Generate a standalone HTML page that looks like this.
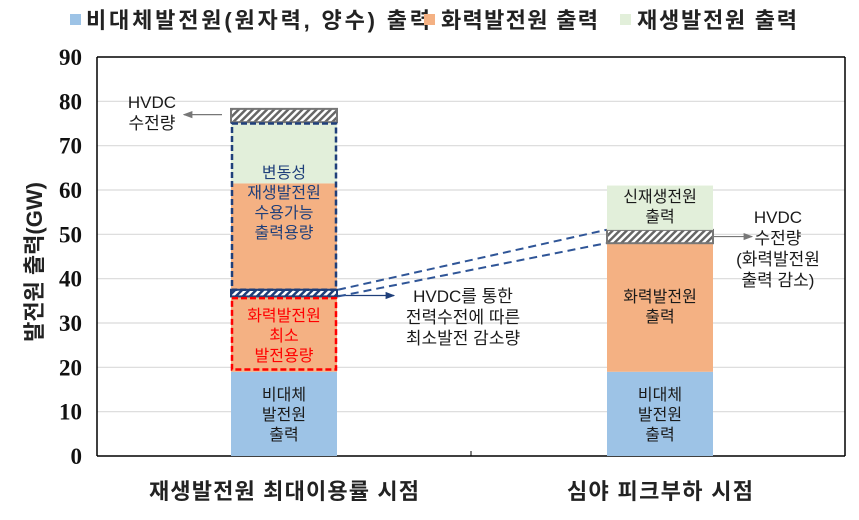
<!DOCTYPE html>
<html><head><meta charset="utf-8">
<style>
body{margin:0;background:#fff;}
svg text{font-family:"Liberation Sans","Noto Sans CJK KR",sans-serif;}
svg text.serif{font-family:"Liberation Serif",serif;}
</style></head>
<body>
<svg width="859" height="515" viewBox="0 0 859 515" xmlns="http://www.w3.org/2000/svg">
<defs>
<pattern id="hg" width="5" height="5" patternUnits="userSpaceOnUse" patternTransform="rotate(45)"><rect width="5" height="5" fill="#fff"/><rect width="2.5" height="5" fill="#666"/></pattern>
<pattern id="hb" width="5" height="5" patternUnits="userSpaceOnUse" patternTransform="rotate(45)"><rect width="5" height="5" fill="#fff"/><rect width="2.5" height="5" fill="#1f3f7a"/></pattern>
<marker id="ag" markerWidth="8" markerHeight="8" refX="7" refY="4" orient="auto"><path d="M0,1 L8,4 L0,7Z" fill="#777"/></marker>
<marker id="an" markerWidth="8" markerHeight="8" refX="7" refY="4" orient="auto"><path d="M0,1 L8,4 L0,7Z" fill="#1f3f7a"/></marker>
</defs>
<g id="legend">
<rect x="70" y="14" width="11" height="11" fill="#9dc3e6"/>
<text x="86" y="28" font-size="22" font-weight="bold" fill="#222" textLength="344">비대체발전원(원자력, 양수) 출력</text>
<rect x="424" y="14" width="11" height="11" fill="#f4b183"/>
<text x="441" y="28" font-size="22" font-weight="bold" fill="#222" textLength="157">화력발전원 출력</text>
<rect x="620" y="14" width="11" height="11" fill="#e2efda"/>
<text x="637" y="28" font-size="22" font-weight="bold" fill="#222" textLength="160">재생발전원 출력</text>
</g>
<g id="grid"></g>
<g id="bars"></g>
<g id="axes"></g>
<text transform="translate(42,262) rotate(-90)" text-anchor="middle" font-size="22" font-weight="bold" fill="#222">발전원 출력(GW)</text>
<text x="284" y="499" text-anchor="middle" font-size="22" font-weight="bold" fill="#222" textLength="270">재생발전원 최대이용률 시점</text>
<text x="660" y="499" text-anchor="middle" font-size="22" font-weight="bold" fill="#222" textLength="186">심야 피크부하 시점</text>
<g id="annot"></g>
</svg>
<script>
const categories=["재생발전원 최대이용률 시점","심야 피크부하 시점"];
const nonVariable=[19,19];
const thermal=[42.5,29];
const hvdc=[3,3];
const renewable=[13.5,10];
const hvdcReduction=[1.5];
const yTicks=[0,10,20,30,40,50,60,70,80,90];
const X0=97,X1=845,Y0=456,Y1=57,YMAX=90;
const centers=[284,660],BW=106;
const y=v=>Y0-(v/YMAX)*(Y0-Y1);
const NS="http://www.w3.org/2000/svg";
function mk(tag,attrs,parent,txt){const e=document.createElementNS(NS,tag);for(const k in attrs)e.setAttribute(k,attrs[k]);if(txt!==undefined)e.textContent=txt;document.getElementById(parent).appendChild(e);return e;}
yTicks.forEach(t=>{
 const g=mk('line',{x1:X0,x2:X1,y1:y(t),y2:y(t),stroke:t===0||t===90?'#000':'#d9d9d9','stroke-width':t===0||t===90?1.5:1.2},'grid');
 
 
 const l=mk('text',{x:82,y:y(t)+8,'text-anchor':'end','font-size':23,'font-weight':'bold',class:'serif',fill:'#111'},'axes',t);
 
 
});
const ax=mk('line',{x1:X0,x2:X0,y1:Y1,y2:Y0,stroke:'#000','stroke-width':1.5},'axes');


const rb=mk('line',{x1:X1,x2:X1,y1:Y1,y2:Y0,stroke:'#000','stroke-width':1.5},'axes');


const mt=mk('line',{x1:471,x2:471,y1:Y0-5,y2:Y0,stroke:'#000'},'axes');


function seg(i,a,b,fill,name,stroke){
 const r=mk('rect',{x:centers[i]-BW/2,y:y(b),width:BW,height:y(a)-y(b),fill:fill},'bars');
 if(stroke){r.setAttribute('stroke',stroke);r.setAttribute('stroke-width',2);}
 
 
}
{let b=nonVariable[0];seg(0,0,b,'#9dc3e6','bar1-non-variable');
 seg(0,b,b+thermal[0],'#f4b183','bar1-thermal');
 let t=b+thermal[0];seg(0,t,t+renewable[0],'#e2efda','bar1-renewable');
 let r=t+renewable[0];seg(0,r+0.3,r+0.3+hvdc[0],'url(#hg)','bar1-hvdc','#777');
 const hs=36;seg(0,hs,hs+hvdcReduction[0],'url(#hb)','bar1-hvdc-reduction','#1f3f7a');
 const rd=mk('rect',{x:centers[0]-BW/2+1,y:y(hs-0.4),width:BW-2,height:y(b+0.5)-y(hs-0.4),fill:'none',stroke:'#ff0000','stroke-width':2.5,'stroke-dasharray':'6,3'},'bars');
 
 
 const nb=mk('rect',{x:centers[0]-BW/2+1,y:y(r),width:BW-2,height:y(hs+hvdcReduction[0])-y(r),fill:'none',stroke:'#1f3f7a','stroke-width':2.5,'stroke-dasharray':'6,3'},'bars');
 
 
}
{let b=nonVariable[1];seg(1,0,b,'#9dc3e6','bar2-non-variable');
 let t=b+thermal[1];seg(1,b,t,'#f4b183','bar2-thermal');
 seg(1,t,t+hvdc[1],'url(#hg)','bar2-hvdc','#777');
 let h=t+hvdc[1];seg(1,h,h+renewable[1],'#e2efda','bar2-renewable');
}
function txt(x,yy,lines,color,name,size,weight){
 const t=mk('text',{x:x,y:yy,'text-anchor':'middle','font-size':size||16,fill:color},'annot');
 if(weight)t.setAttribute('font-weight',weight);
 
 
 lines.forEach((s,k)=>{const ts=document.createElementNS(NS,'tspan');ts.setAttribute('x',x);ts.setAttribute('dy',k?(size?size+4:20):0);ts.textContent=s;t.appendChild(ts);});
}
txt(284,400,['비대체','발전원','출력'],'#1a1a1a','bar1-label-non-variable');
txt(660,400,['비대체','발전원','출력'],'#1a1a1a','bar2-label-non-variable');
txt(284,321,['화력발전원','최소','발전용량'],'#ff0000','label-min-generation');
txt(284,178,['변동성','재생발전원','수용가능','출력용량'],'#1f3f7a','label-variable-capacity');
txt(660,202,['신재생전원','출력'],'#1a1a1a','bar2-label-renewable');
txt(660,302,['화력발전원','출력'],'#1a1a1a','bar2-label-thermal');
txt(152,108,['HVDC','수전량'],'#1a1a1a','label-hvdc-bar1',17);
txt(778,223,['HVDC','수전량','(화력발전원','출력 감소)'],'#1a1a1a','label-hvdc-bar2',17);
txt(463,302,['HVDC를 통한','전력수전에 따른','최소발전 감소량'],'#1a1a1a','label-hvdc-reduction',17);
const a1=mk('line',{x1:222,y1:y(77),x2:184,y2:y(77),stroke:'#777','stroke-width':1.2,'marker-end':'url(#ag)'},'annot');

const a2=mk('line',{x1:713,y1:y(49.5),x2:752,y2:y(49.5),stroke:'#777','stroke-width':1.2,'marker-end':'url(#ag)'},'annot');

const a3=mk('line',{x1:338,y1:y(36.2),x2:394,y2:y(36.2),stroke:'#1f3f7a','stroke-width':1.2,'marker-end':'url(#an)'},'annot');

const d1=mk('line',{x1:338,y1:y(37.5),x2:606,y2:y(51),stroke:'#2f5597','stroke-width':2,'stroke-dasharray':'8,5'},'annot');

const d2=mk('line',{x1:338,y1:y(36),x2:606,y2:y(48),stroke:'#2f5597','stroke-width':2,'stroke-dasharray':'8,5'},'annot');

</script>
</body></html>
